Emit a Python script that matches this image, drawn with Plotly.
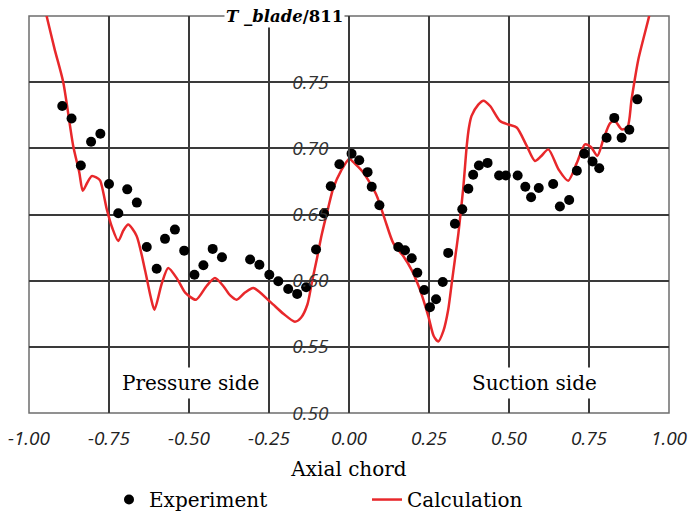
import plotly.graph_objects as go

# Experiment (dots)
exp_x = [-0.896, -0.867, -0.838, -0.806, -0.777, -0.750, -0.721, -0.693, -0.663, -0.632,
         -0.601, -0.575, -0.544, -0.515, -0.483, -0.455, -0.426, -0.397, -0.309, -0.280,
         -0.249, -0.221, -0.190, -0.162, -0.134, -0.103, -0.078, -0.057, -0.030, 0.008,
         0.032, 0.058, 0.071, 0.095, 0.154, 0.175, 0.196, 0.2135, 0.235, 0.253,
         0.272, 0.293, 0.310, 0.331, 0.354, 0.373, 0.388, 0.406, 0.433, 0.469,
         0.490, 0.527, 0.551, 0.569, 0.593, 0.638, 0.659, 0.688, 0.712, 0.735,
         0.761, 0.782, 0.805, 0.829, 0.852, 0.876, 0.901]
exp_y = [0.732, 0.7225, 0.687, 0.705, 0.711, 0.673, 0.651, 0.669, 0.659, 0.6255,
         0.609, 0.6316, 0.6386, 0.6227, 0.6045, 0.6116, 0.624, 0.6177, 0.616, 0.612,
         0.6045, 0.5995, 0.5937, 0.590, 0.595, 0.6235, 0.6508, 0.6714, 0.688, 0.696,
         0.691, 0.682, 0.671, 0.657, 0.6255, 0.623, 0.617, 0.606, 0.593, 0.580,
         0.586, 0.599, 0.621, 0.643, 0.654, 0.6695, 0.680, 0.687, 0.689, 0.6795,
         0.6795, 0.6795, 0.671, 0.663, 0.670, 0.673, 0.656, 0.661, 0.683, 0.696,
         0.690, 0.685, 0.708, 0.723, 0.708, 0.714, 0.737]

# Calculation (red line)
calc_x = [-0.955, -0.945, -0.920, -0.893, -0.862, -0.843, -0.832, -0.818, -0.804, -0.790,
          -0.778, -0.757, -0.740, -0.721, -0.705, -0.690, -0.664, -0.6375, -0.620, -0.608,
          -0.585, -0.565, -0.536, -0.512, -0.478, -0.445, -0.419, -0.393, -0.372, -0.351,
          -0.325, -0.299, -0.246, -0.205, -0.169, -0.150, -0.130, -0.115, -0.100, -0.085,
          -0.065, -0.049, -0.025, 0.001, 0.020, 0.045, 0.065, 0.087, 0.1125, 0.138,
          0.170, 0.196, 0.222, 0.248, 0.265, 0.279, 0.295, 0.310, 0.321, 0.331,
          0.342, 0.357, 0.368, 0.375, 0.383, 0.404, 0.420, 0.441, 0.472, 0.498,
          0.524, 0.555, 0.581, 0.600, 0.623, 0.655, 0.685, 0.712, 0.7375, 0.756,
          0.776, 0.795, 0.816, 0.831, 0.852, 0.870, 0.883, 0.904, 0.938, 0.946]
calc_y = [0.810, 0.800, 0.775, 0.750, 0.702, 0.682, 0.668, 0.674, 0.679, 0.678,
          0.6758, 0.654, 0.640, 0.630, 0.638, 0.6424, 0.634, 0.608, 0.588, 0.578,
          0.598, 0.6096, 0.601, 0.591, 0.5856, 0.596, 0.602, 0.596, 0.589, 0.5856,
          0.591, 0.5945, 0.584, 0.575, 0.569, 0.572, 0.582, 0.600, 0.617, 0.635,
          0.655, 0.670, 0.683, 0.692, 0.688, 0.6816, 0.674, 0.664, 0.646, 0.6286,
          0.6184, 0.608, 0.593, 0.573, 0.558, 0.554, 0.562, 0.578, 0.598, 0.616,
          0.636, 0.670, 0.702, 0.716, 0.7245, 0.733, 0.736, 0.732, 0.7207, 0.718,
          0.7157, 0.702, 0.6905, 0.694, 0.6992, 0.684, 0.6755, 0.689, 0.703, 0.701,
          0.6943, 0.7068, 0.719, 0.7207, 0.7144, 0.7157, 0.737, 0.767, 0.800, 0.810]

x_ticks = [-1.0, -0.75, -0.5, -0.25, 0.0, 0.25, 0.5, 0.75, 1.0]
x_tick_text = ["-1.00", "-0.75", "-0.50", "-0.25", "0.00", "0.25", "0.50", "0.75", "1.00"]
y_ticks = [0.50, 0.55, 0.60, 0.65, 0.70, 0.75]
y_tick_text = ["0.50", "0.55", "0.60", "0.65", "0.70", "0.75"]

SERIF = "DejaVu Serif"
SANS = "Open Sans"
GRID = "#3a3a3a"

fig = go.Figure()
fig.add_trace(go.Scatter(
    x=calc_x, y=calc_y, mode="lines", name="Calculation",
    line=dict(color="#e8282b", width=2.5, shape="spline", smoothing=0.7),
))
fig.add_trace(go.Scatter(
    x=exp_x, y=exp_y, mode="markers", name="Experiment",
    marker=dict(color="black", size=10),
))

fig.update_layout(
    width=689, height=516,
    margin=dict(l=29, r=20, t=16, b=103, autoexpand=False),
    paper_bgcolor="white", plot_bgcolor="white",
    showlegend=True,
    legend=dict(
        orientation="h", traceorder="reversed",
        x=0.125, xanchor="left", y=-0.218, yanchor="middle",
        font=dict(family=SERIF, size=20, color="black"),
        entrywidth=213, entrywidthmode="pixels",
        bgcolor="rgba(0,0,0,0)",
    ),
    xaxis=dict(
        range=[-1, 1], tickvals=x_ticks, ticktext=x_tick_text,
        showgrid=True, gridcolor=GRID, gridwidth=1.5, zeroline=False,
        ticks="", ticklabelstandoff=12,
        tickfont=dict(family=SANS, size=19, color="#222", style="italic"),
        title=dict(text="Axial chord", standoff=11,
                   font=dict(family=SERIF, size=20, color="black")),
        showline=False,
    ),
    yaxis=dict(
        range=[0.5, 0.8], tickvals=y_ticks, ticktext=y_tick_text,
        anchor="free", position=0.5, side="left",
        showgrid=True, gridcolor=GRID, gridwidth=1.5, zeroline=False,
        ticks="", ticklabelstandoff=16,
        showline=True, linecolor=GRID, linewidth=1.5,
        tickfont=dict(family=SANS, size=19, color="#333", style="italic"),
    ),
    shapes=[dict(type="rect", xref="paper", yref="paper", x0=0, y0=0, x1=1, y1=1,
                 line=dict(color="#6e6e6e", width=1.5), layer="below")],
    annotations=[
        dict(text="Pressure side", x=-0.495, y=0.523, xref="x", yref="y",
             showarrow=False, bgcolor="white", borderpad=3,
             font=dict(family=SERIF, size=20, color="black")),
        dict(text="Suction side", x=0.58, y=0.523, xref="x", yref="y",
             showarrow=False, bgcolor="white", borderpad=3,
             font=dict(family=SERIF, size=20, color="black")),
        dict(text="<b><i>T _blade</i>/811</b>", x=-0.012, y=0.80, xref="x", yref="y",
             xanchor="right", yanchor="middle", showarrow=False, bgcolor="white",
             borderpad=1, font=dict(family=SERIF, size=16.5, color="black")),
    ],
)

fig.write_html("out.html")
